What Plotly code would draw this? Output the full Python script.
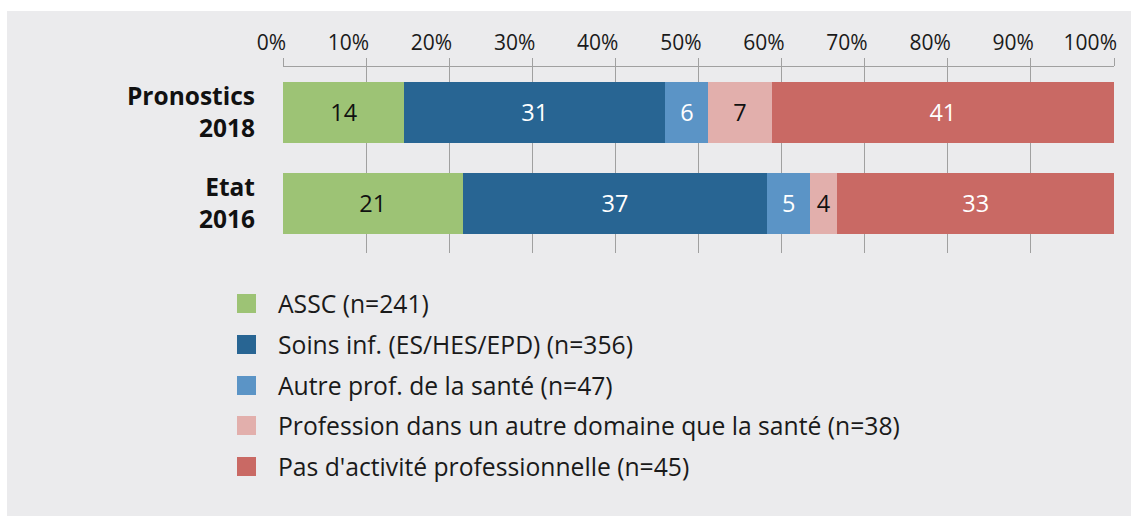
import plotly.graph_objects as go

# ---- data ----
categories = ["Pronostics<br>2018", "Etat<br>2016"]
series_names = [
    "ASSC (n=241)",
    "Soins inf. (ES/HES/EPD) (n=356)",
    "Autre prof. de la santé (n=47)",
    "Profession dans un autre domaine que la santé (n=38)",
    "Pas d'activité professionnelle (n=45)",
]
# percentage widths measured from the bars (Pronostics 2018, Etat 2016)
assc = [14.6, 21.6]
soins = [31.4, 36.7]
autre = [5.2, 5.1]
profession = [7.6, 3.3]
pas_activite = [41.2, 33.3]
# printed labels
assc_labels = ["14", "21"]
soins_labels = ["31", "37"]
autre_labels = ["6", "5"]
profession_labels = ["7", "4"]
pas_activite_labels = ["41", "33"]
tick_values = [0, 10, 20, 30, 40, 50, 60, 70, 80, 90, 100]
tick_labels = ["0%", "10%", "20%", "30%", "40%", "50%", "60%", "70%", "80%", "90%", "100%"]

colors = ["#9DC375", "#286593", "#5B94C6", "#E2AFAC", "#C96964"]
text_colors = ["#111111", "#FFFFFF", "#FFFFFF", "#111111", "#FFFFFF"]
values = [assc, soins, autre, profession, pas_activite]
labels = [assc_labels, soins_labels, autre_labels, profession_labels, pas_activite_labels]

FONT = "Open Sans, Noto Sans, sans-serif"
W, H = 1131, 516
ML, MT = 283, 67
PR, PB = 1114, 253
MR, MB = W - PR, H - PB
PW, PH = PR - ML, PB - MT


def px_x(sx):
    """pixel x -> paper x"""
    return (sx - ML) / PW


def px_y(sy):
    """pixel y -> paper y"""
    return (PB - sy) / PH


fig = go.Figure()
for name, vals, labs, col, tcol in zip(series_names, values, labels, colors, text_colors):
    fig.add_trace(go.Bar(
        y=categories, x=vals, name=name, orientation="h",
        marker=dict(color=col, line=dict(width=0)),
        text=labs, textposition="inside", insidetextanchor="middle",
        textangle=0, constraintext="none",
        textfont=dict(color=tcol, size=23.5, family=FONT),
        width=0.67, showlegend=False, hoverinfo="skip",
    ))

shapes = [
    # white frame strips (top / left) over the grey paper
    dict(type="rect", xref="paper", yref="paper", layer="below",
         x0=px_x(-5), x1=px_x(1140), y0=px_y(-5), y1=px_y(11),
         fillcolor="white", line=dict(width=0)),
    dict(type="rect", xref="paper", yref="paper", layer="below",
         x0=px_x(-5), x1=px_x(7), y0=px_y(-5), y1=px_y(530),
         fillcolor="white", line=dict(width=0)),
]
annotations = []
leg_rows = [303.5, 344.5, 385.5, 425.5, 466.5]
for name, col, cy in zip(series_names, colors, leg_rows):
    shapes.append(dict(type="rect", xref="paper", yref="paper",
                       x0=px_x(237), x1=px_x(256), y0=px_y(cy - 9.5), y1=px_y(cy + 9.5),
                       fillcolor=col, line=dict(width=0)))
    annotations.append(dict(xref="paper", yref="paper", x=px_x(276), y=px_y(cy),
                            xanchor="left", yanchor="middle", showarrow=False,
                            text=name, font=dict(size=24.7, color="#1a1a1a", family=FONT)))

fig.update_layout(
    width=W, height=H,
    margin=dict(l=ML, r=MR, t=MT, b=MB, pad=0),
    barmode="stack",
    paper_bgcolor="#EBEBED",
    plot_bgcolor="rgba(0,0,0,0)",
    font=dict(family=FONT, color="#1a1a1a"),
    shapes=shapes,
    annotations=annotations,
    hovermode=False,
    xaxis=dict(
        side="top", range=[0, 100], tickvals=tick_values, ticktext=tick_labels,
        showgrid=True, gridcolor="#A0A0A0", gridwidth=1,
        showline=True, linecolor="#A0A0A0", linewidth=1,
        ticks="outside", ticklen=8, tickcolor="#A0A0A0",
        ticklabelposition="outside left", ticklabelshift=4, ticklabelstandoff=8,
        tickfont=dict(size=21, color="#1a1a1a", family=FONT),
        zeroline=False, fixedrange=True,
    ),
    yaxis=dict(
        range=[1.546, -0.5], showgrid=False, showline=False, ticks="",
        tickfont=dict(size=24.5, color="#111111", family=FONT, weight="bold"),
        ticklabelstandoff=27, fixedrange=True,
    ),
)

fig.write_html(
    "out.html",
    config={"displayModeBar": False, "staticPlot": True},
    post_script="document.body.style.margin='0';document.body.style.overflow='hidden';",
)
